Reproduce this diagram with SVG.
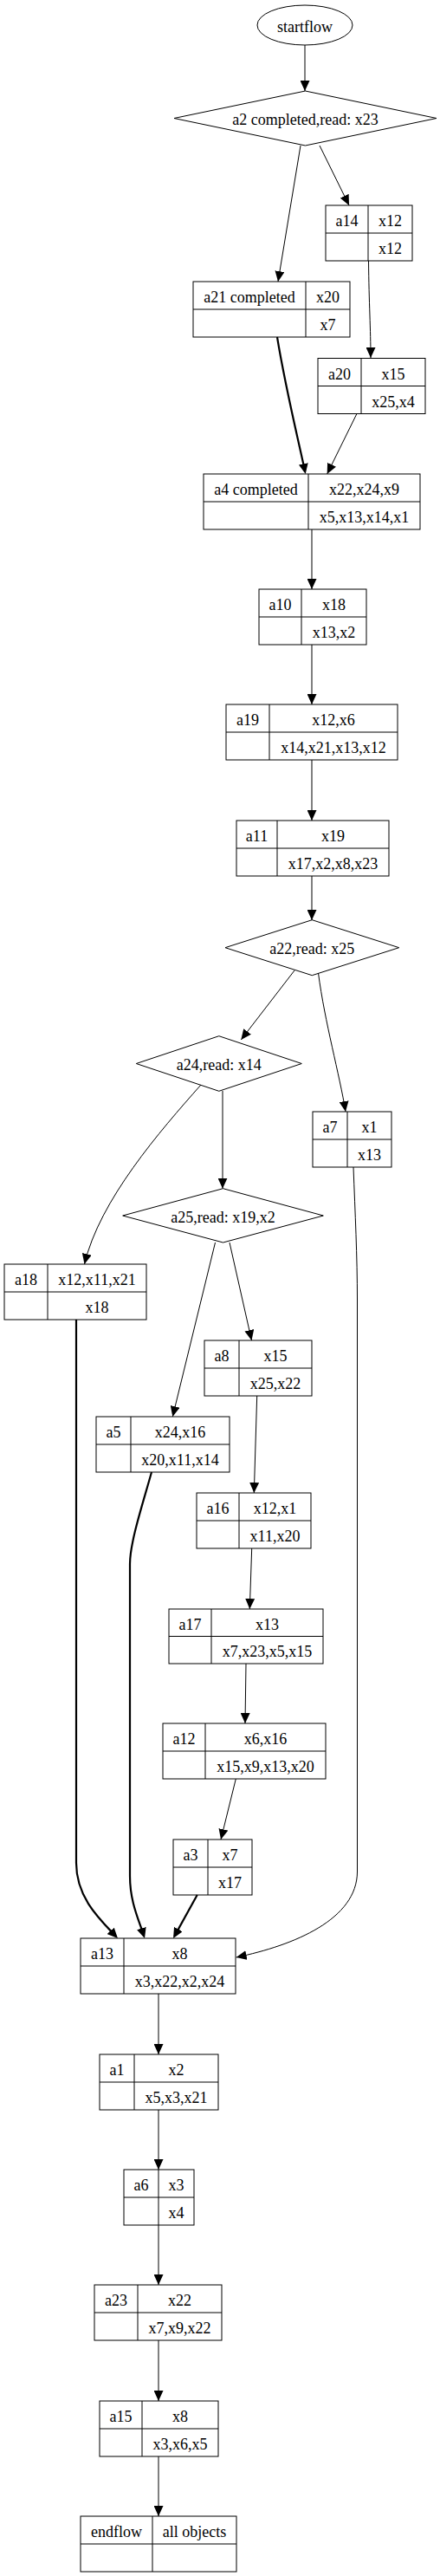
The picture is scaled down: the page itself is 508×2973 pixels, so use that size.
<svg xmlns="http://www.w3.org/2000/svg" width="508" height="2973" viewBox="0 0 508 2973">
<style>
.n rect,.n polygon,.n ellipse,.n line{fill:none;stroke:#000;stroke-width:1}
text{font-family:"Liberation Serif","Times New Roman",serif;font-size:18px;text-anchor:middle;fill:#000}
.e path{fill:none;stroke:#000;stroke-width:1}
.e path.t{stroke-width:2.2}
</style>
<defs>
<marker id="arr" viewBox="0 0 12 11" refX="12" refY="5.5" markerWidth="12" markerHeight="11" markerUnits="userSpaceOnUse" orient="auto"><path d="M0,0 L12,5.5 L0,11 z" fill="#000"/></marker>
<marker id="arrT" viewBox="0 0 12 11" refX="9" refY="5.5" markerWidth="12" markerHeight="11" markerUnits="userSpaceOnUse" orient="auto"><path d="M0,0 L12,5.5 L0,11 z" fill="#000"/></marker>
</defs>
<rect x="0" y="0" width="508" height="2973" fill="#fff"/>
<g class="e" id="edges">
<path d="M352,52 L352,105" marker-end="url(#arr)"/>
<path d="M347,168 L321,325" marker-end="url(#arr)"/>
<path d="M369,168 L403,237" marker-end="url(#arr)"/>
<path d="M425.5,301 C426,350 428,380 428,413" marker-end="url(#arr)"/>
<path class="t" d="M320,389 C330,450 345,510 352.1,544.1" marker-end="url(#arrT)"/>
<path d="M411.7,478 L377.7,547" marker-end="url(#arr)"/>
<path d="M360,611 L360,680" marker-end="url(#arr)"/>
<path d="M360,744 L360,813" marker-end="url(#arr)"/>
<path d="M360,877 L360,947" marker-end="url(#arr)"/>
<path d="M360,1011 L360,1062" marker-end="url(#arr)"/>
<path d="M340,1120 L278.3,1200" marker-end="url(#arr)"/>
<path d="M367.5,1123 C375,1180 392,1240 399,1283" marker-end="url(#arr)"/>
<path d="M257,1259 L257,1371.7" marker-end="url(#arr)"/>
<path d="M232,1252 C185,1305 115,1385 97.5,1459" marker-end="url(#arr)"/>
<path d="M265,1434 L290.5,1547" marker-end="url(#arr)"/>
<path d="M248.5,1434 L199.3,1635" marker-end="url(#arr)"/>
<path d="M296.7,1611 L293.3,1723" marker-end="url(#arr)"/>
<path d="M290.7,1787 L288.3,1857" marker-end="url(#arr)"/>
<path d="M284,1920 L283,1989" marker-end="url(#arr)"/>
<path d="M272.3,2053 L255,2123" marker-end="url(#arr)"/>
<path class="t" d="M88,1523 L88,2150 C88,2190 115,2215 133.9,2234.8" marker-end="url(#arrT)"/>
<path class="t" d="M175,1699 C165,1735 150,1780 150,1805 L150,2165 C150,2195 160,2215 166.1,2234.1" marker-end="url(#arrT)"/>
<path class="t" d="M227.7,2187 L201.5,2234.4" marker-end="url(#arrT)"/>
<path d="M408,1347 C410,1400 412.5,1450 412.5,1500 L412.5,2160 C412.5,2215 340,2245 272.7,2259" marker-end="url(#arr)"/>
<path d="M183,2301 L183,2371" marker-end="url(#arr)"/>
<path d="M183,2435 L183,2504" marker-end="url(#arr)"/>
<path d="M183,2568 L183,2637" marker-end="url(#arr)"/>
<path d="M183,2701 L183,2771" marker-end="url(#arr)"/>
<path d="M183,2835 L183,2904" marker-end="url(#arr)"/>
</g>
<g class="n" id="startflow"><ellipse cx="352" cy="29" rx="55" ry="23"/><text x="352" y="37">startflow</text></g>
<g class="n" id="a2"><polygon points="201,136.5 352.5,105 504,136.5 352.5,168"/><text x="352.5" y="144">a2 completed,read: x23</text></g>
<g class="n" id="a14"><rect x="376" y="237" width="100" height="64"/><line x1="376" y1="269" x2="476" y2="269"/><line x1="425" y1="237" x2="425" y2="301"/><text x="400.5" y="261">a14</text><text x="450.5" y="261">x12</text><text x="450.5" y="293">x12</text></g>
<g class="n" id="a21"><rect x="223" y="325" width="181" height="64"/><line x1="223" y1="357" x2="404" y2="357"/><line x1="353" y1="325" x2="353" y2="389"/><text x="288" y="349">a21 completed</text><text x="378.5" y="349">x20</text><text x="378.5" y="381">x7</text></g>
<g class="n" id="a20"><rect x="367" y="413.5" width="124" height="64"/><line x1="367" y1="445.5" x2="491" y2="445.5"/><line x1="417" y1="413.5" x2="417" y2="477.5"/><text x="392" y="437.5">a20</text><text x="454" y="437.5">x15</text><text x="454" y="469.5">x25,x4</text></g>
<g class="n" id="a4"><rect x="235" y="547" width="250" height="64"/><line x1="235" y1="579" x2="485" y2="579"/><line x1="356" y1="547" x2="356" y2="611"/><text x="295.5" y="571">a4 completed</text><text x="420.5" y="571">x22,x24,x9</text><text x="420.5" y="603">x5,x13,x14,x1</text></g>
<g class="n" id="a10"><rect x="299" y="680" width="124" height="64"/><line x1="299" y1="712" x2="423" y2="712"/><line x1="348" y1="680" x2="348" y2="744"/><text x="323.5" y="704">a10</text><text x="385.5" y="704">x18</text><text x="385.5" y="736">x13,x2</text></g>
<g class="n" id="a19"><rect x="261" y="813" width="198" height="64"/><line x1="261" y1="845" x2="459" y2="845"/><line x1="311" y1="813" x2="311" y2="877"/><text x="286" y="837">a19</text><text x="385" y="837">x12,x6</text><text x="385" y="869">x14,x21,x13,x12</text></g>
<g class="n" id="a11"><rect x="273" y="947" width="176" height="64"/><line x1="273" y1="979" x2="449" y2="979"/><line x1="320" y1="947" x2="320" y2="1011"/><text x="296.5" y="971">a11</text><text x="384.5" y="971">x19</text><text x="384.5" y="1003">x17,x2,x8,x23</text></g>
<g class="n" id="a22"><polygon points="260,1093.7 360.3,1061.7 460.7,1093.7 360.3,1125.7"/><text x="360.3" y="1101">a22,read: x25</text></g>
<g class="n" id="a24"><polygon points="157.3,1227.5 252.8,1195.7 348.3,1227.5 252.8,1259.3"/><text x="252.8" y="1235">a24,read: x14</text></g>
<g class="n" id="a7"><rect x="361" y="1283" width="91" height="64"/><line x1="361" y1="1315" x2="452" y2="1315"/><line x1="401" y1="1283" x2="401" y2="1347"/><text x="381" y="1307">a7</text><text x="426.5" y="1307">x1</text><text x="426.5" y="1339">x13</text></g>
<g class="n" id="a25"><polygon points="141.7,1403 257.5,1371.7 373.3,1403 257.5,1434"/><text x="257.5" y="1411">a25,read: x19,x2</text></g>
<g class="n" id="a18"><rect x="5" y="1459" width="164" height="64"/><line x1="5" y1="1491" x2="169" y2="1491"/><line x1="55" y1="1459" x2="55" y2="1523"/><text x="30" y="1483">a18</text><text x="112" y="1483">x12,x11,x21</text><text x="112" y="1515">x18</text></g>
<g class="n" id="a8"><rect x="236" y="1547" width="124" height="64"/><line x1="236" y1="1579" x2="360" y2="1579"/><line x1="276" y1="1547" x2="276" y2="1611"/><text x="256" y="1571">a8</text><text x="318" y="1571">x15</text><text x="318" y="1603">x25,x22</text></g>
<g class="n" id="a5"><rect x="111" y="1635" width="154" height="64"/><line x1="111" y1="1667" x2="265" y2="1667"/><line x1="151" y1="1635" x2="151" y2="1699"/><text x="131" y="1659">a5</text><text x="208" y="1659">x24,x16</text><text x="208" y="1691">x20,x11,x14</text></g>
<g class="n" id="a16"><rect x="227" y="1723" width="132" height="64"/><line x1="227" y1="1755" x2="359" y2="1755"/><line x1="276" y1="1723" x2="276" y2="1787"/><text x="251.5" y="1747">a16</text><text x="317.5" y="1747">x12,x1</text><text x="317.5" y="1779">x11,x20</text></g>
<g class="n" id="a17"><rect x="195" y="1857" width="178" height="63"/><line x1="195" y1="1888.5" x2="373" y2="1888.5"/><line x1="244" y1="1857" x2="244" y2="1920"/><text x="219.5" y="1881">a17</text><text x="308.5" y="1881">x13</text><text x="308.5" y="1912">x7,x23,x5,x15</text></g>
<g class="n" id="a12"><rect x="188" y="1989" width="188" height="64"/><line x1="188" y1="2021" x2="376" y2="2021"/><line x1="237" y1="1989" x2="237" y2="2053"/><text x="212.5" y="2013">a12</text><text x="306.5" y="2013">x6,x16</text><text x="306.5" y="2045">x15,x9,x13,x20</text></g>
<g class="n" id="a3"><rect x="200" y="2123" width="91" height="64"/><line x1="200" y1="2155" x2="291" y2="2155"/><line x1="240" y1="2123" x2="240" y2="2187"/><text x="220" y="2147">a3</text><text x="265.5" y="2147">x7</text><text x="265.5" y="2179">x17</text></g>
<g class="n" id="a13"><rect x="93" y="2237" width="179" height="64"/><line x1="93" y1="2269" x2="272" y2="2269"/><line x1="143" y1="2237" x2="143" y2="2301"/><text x="118" y="2261">a13</text><text x="207.5" y="2261">x8</text><text x="207.5" y="2293">x3,x22,x2,x24</text></g>
<g class="n" id="a1"><rect x="115" y="2371" width="137" height="64"/><line x1="115" y1="2403" x2="252" y2="2403"/><line x1="155" y1="2371" x2="155" y2="2435"/><text x="135" y="2395">a1</text><text x="203.5" y="2395">x2</text><text x="203.5" y="2427">x5,x3,x21</text></g>
<g class="n" id="a6"><rect x="143" y="2504" width="81" height="64"/><line x1="143" y1="2536" x2="224" y2="2536"/><line x1="183" y1="2504" x2="183" y2="2568"/><text x="163" y="2528">a6</text><text x="203.5" y="2528">x3</text><text x="203.5" y="2560">x4</text></g>
<g class="n" id="a23"><rect x="109" y="2637" width="147" height="64"/><line x1="109" y1="2669" x2="256" y2="2669"/><line x1="159" y1="2637" x2="159" y2="2701"/><text x="134" y="2661">a23</text><text x="207.5" y="2661">x22</text><text x="207.5" y="2693">x7,x9,x22</text></g>
<g class="n" id="a15"><rect x="115" y="2771" width="137" height="64"/><line x1="115" y1="2803" x2="252" y2="2803"/><line x1="164" y1="2771" x2="164" y2="2835"/><text x="139.5" y="2795">a15</text><text x="208" y="2795">x8</text><text x="208" y="2827">x3,x6,x5</text></g>
<g class="n" id="endflow"><rect x="93" y="2904" width="180" height="64"/><line x1="93" y1="2936" x2="273" y2="2936"/><line x1="176" y1="2904" x2="176" y2="2968"/><text x="134.5" y="2928">endflow</text><text x="224.5" y="2928">all objects</text></g>
</svg>
